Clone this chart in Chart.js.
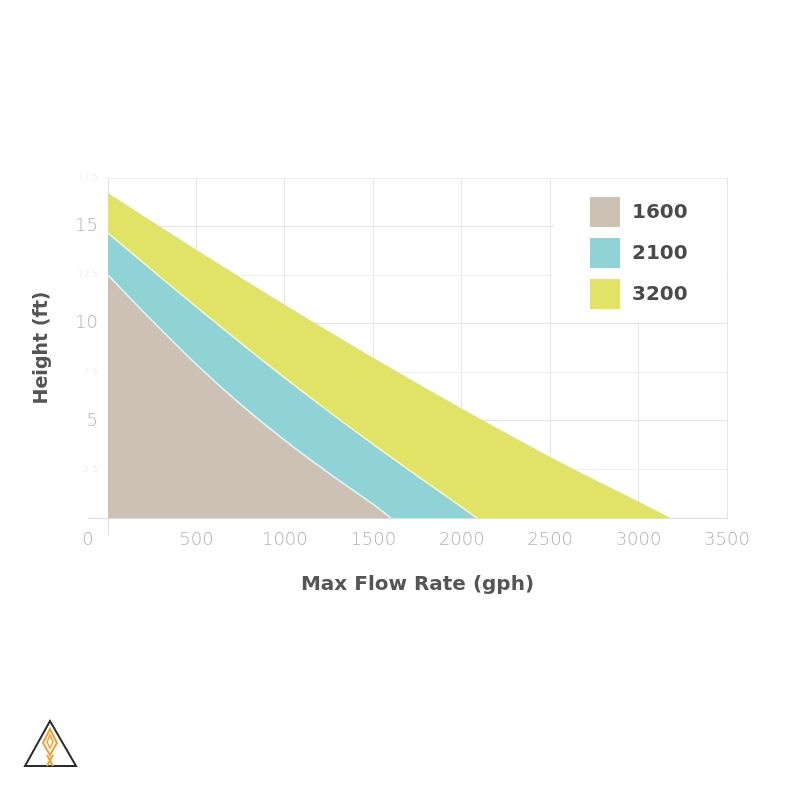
<!DOCTYPE html>
<html>
<head>
<meta charset="utf-8">
<script src="https://cdn.jsdelivr.net/npm/chart.js@4.4.1/dist/chart.umd.min.js"></script>
<style>
  html, body { margin: 0; padding: 0; background: #ffffff; }
  #wrap { position: relative; width: 800px; height: 800px; }
  #logo { position: absolute; left: 0; top: 700px; }
</style>
</head>
<body>
<div id="wrap">
  <canvas id="c" width="800" height="800"></canvas>
  <svg id="logo" width="100" height="90" viewBox="0 700 100 90">
    <polygon points="50,721 25,766 76,766" fill="none" stroke="#2b2b2b" stroke-width="2"/>
    <polygon points="50,729 43,743 50,755 57,743" fill="none" stroke="#f0a030" stroke-width="2"/>
    <polygon points="50,735 47,742 50,748 53,742" fill="none" stroke="#f0a030" stroke-width="1.5"/>
    <line x1="47" y1="755" x2="53" y2="766" stroke="#f0a030" stroke-width="2"/>
    <line x1="53" y1="755" x2="47" y2="766" stroke="#f0a030" stroke-width="2"/>
  </svg>
</div>
<script>
// ---- data ----
const seriesLabels = ['1600', '2100', '3200'];

const flow1600 = [0, 250, 500, 750, 1000, 1250, 1500, 1600];
const head1600 = [12.5, 10.15, 7.9, 5.85, 4.0, 2.3, 0.7, 0];

const flow2100 = [0, 250, 500, 750, 1000, 1250, 1500, 1750, 2000, 2085];
const head2100 = [14.67, 12.75, 10.86, 9.01, 7.21, 5.47, 3.79, 2.16, 0.56, 0];

const flow3200 = [0, 250, 500, 750, 1000, 1250, 1500, 1750, 2000, 2250, 2500, 2750, 3000, 3175];
const head3200 = [16.7, 15.23, 13.78, 12.35, 10.95, 9.57, 8.22, 6.9, 5.61, 4.35, 3.12, 1.95, 0.82, 0];

const xTicks = [0, 500, 1000, 1500, 2000, 2500, 3000, 3500];
const yTicks = [0, 2.5, 5, 7.5, 10, 12.5, 15, 17.5];

const fillColors = ['#cdc1b6', '#8fd3d6', '#e0e366'];

function pts(xs, ys) { return xs.map((x, i) => ({ x: x, y: ys[i] })); }

const TICK_FONT = '"DejaVu Sans", "Open Sans", sans-serif';
const BOLD_FONT = '"DejaVu Sans", "Open Sans", sans-serif';

const extras = {
  id: 'extras',
  beforeDatasetsDraw(chart) {
    const ctx = chart.ctx;
    const xs = chart.scales.x, ys = chart.scales.y;
    // legend panel (white, covers grid)
    const lx = xs.getPixelForValue(2520), rx = xs.getPixelForValue(3500) - 1;
    const ty = ys.getPixelForValue(17.5) + 1, by = ys.getPixelForValue(10.1);
    ctx.save();
    ctx.fillStyle = '#ffffff';
    ctx.fillRect(lx, ty, rx - lx, by - ty);
    const boxX = 590, boxW = 30, boxH = 30;
    const rows = [212, 253, 294];
    ctx.font = 'bold 20px ' + BOLD_FONT;
    ctx.textBaseline = 'middle';
    ctx.textAlign = 'left';
    chart.data.datasets.forEach((ds, i) => {
      ctx.fillStyle = ds.backgroundColor;
      ctx.fillRect(boxX, rows[i] - boxH / 2, boxW, boxH);
      ctx.fillStyle = '#4a4a4a';
      ctx.fillText(ds.label, 632, rows[i] + 1);
    });
    ctx.restore();
  },
  afterDraw(chart) {
    const ctx = chart.ctx;
    const xs = chart.scales.x, ys = chart.scales.y;
    const x0 = xs.getPixelForValue(0), y0 = ys.getPixelForValue(0);
    ctx.save();
    ctx.strokeStyle = '#dcdcdc';
    ctx.lineWidth = 1;
    ctx.beginPath();
    ctx.moveTo(x0 - 20, y0 + 0.5); ctx.lineTo(x0, y0 + 0.5);
    ctx.moveTo(x0 + 0.5, y0); ctx.lineTo(x0 + 0.5, y0 + 17);
    ctx.stroke();
    ctx.fillStyle = '#b4b4b4';
    ctx.font = '300 18px ' + TICK_FONT;
    ctx.textAlign = 'center';
    ctx.textBaseline = 'middle';
    ctx.fillText('0', x0 - 20, 540);
    ctx.restore();
  }
};

new Chart(document.getElementById('c'), {
  type: 'line',
  data: {
    datasets: [
      { label: seriesLabels[0], data: pts(flow1600, head1600), backgroundColor: fillColors[0],
        borderColor: 'rgba(235,248,246,0.95)', borderWidth: 1.5, fill: 'origin' },
      { label: seriesLabels[1], data: pts(flow2100, head2100), backgroundColor: fillColors[1],
        borderColor: 'rgba(245,250,225,0.95)', borderWidth: 1.5, fill: 'origin' },
      { label: seriesLabels[2], data: pts(flow3200, head3200), backgroundColor: fillColors[2],
        borderColor: fillColors[2], borderWidth: 1, fill: 'origin' }
    ]
  },
  options: {
    responsive: false,
    animation: false,
    layout: { padding: { top: 178, right: 73, bottom: 182, left: 0 } },
    elements: { point: { radius: 0 }, line: { cubicInterpolationMode: 'monotone' } },
    plugins: { legend: { display: false }, tooltip: { enabled: false } },
    scales: {
      x: {
        type: 'linear', min: 0, max: 3500,
        afterBuildTicks(scale) { scale.ticks = xTicks.map(v => ({ value: v })); },
        afterFit(scale) { scale.height = 100; },
        grid: { color: '#e6e6e6', drawTicks: false, lineWidth: 1 },
        border: { color: '#dcdcdc' },
        ticks: {
          padding: 12, color: '#b4b4b4', maxRotation: 0, autoSkip: false,
          font: { family: TICK_FONT, size: 18, weight: '300' },
          callback: (v) => (v === 0 ? '' : String(v))
        },
        title: {
          display: true, text: 'Max Flow Rate (gph)', color: '#555555',
          font: { family: BOLD_FONT, size: 20, weight: 'bold' },
          padding: { top: 0, bottom: 21 }
        }
      },
      y: {
        type: 'linear', min: 0, max: 17.5,
        afterBuildTicks(scale) { scale.ticks = yTicks.map(v => ({ value: v })); },
        afterFit(scale) { scale.width = 108; },
        grid: {
          drawTicks: false,
          color: (c) => (c.tick && c.tick.value % 5 === 0 ? '#e4e4e4' : '#f0f0f0')
        },
        border: { color: '#e2e2e2' },
        ticks: {
          padding: 10, autoSkip: false,
          color: (c) => (c.tick && c.tick.value % 5 === 0 ? '#b4b4b4' : '#e2e2e2'),
          font: (c) => (c.tick && c.tick.value % 5 === 0
            ? { family: TICK_FONT, size: 18, weight: '300' }
            : { family: TICK_FONT, size: 9, weight: '300' }),
          callback: (v) => (v === 0 ? '' : String(v))
        },
        title: {
          display: true, text: 'Height (ft)', color: '#555555',
          font: { family: BOLD_FONT, size: 19, weight: 'bold' },
          padding: { top: 31, bottom: 0 }
        }
      }
    }
  },
  plugins: [extras]
});
</script>
</body>
</html>
